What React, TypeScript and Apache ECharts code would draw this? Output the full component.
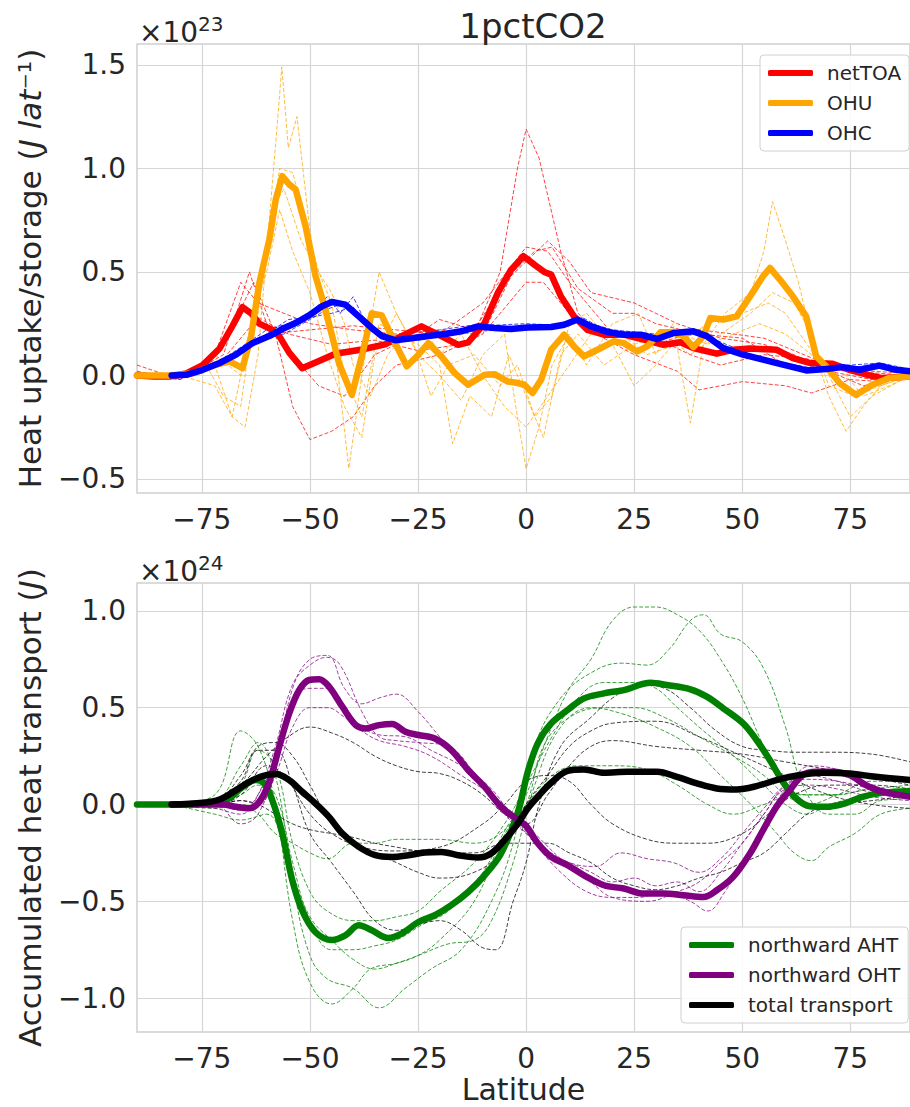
import React, { useEffect, useRef } from "react";
import * as echarts from "echarts";

const FONT = '"DejaVu Sans", "Liberation Sans", sans-serif';
const TXT = "#262626";

// tick labels
const xTicks = [-75, -50, -25, 0, 25, 50, 75];
const topYTicks = [-0.5, 0, 0.5, 1.0, 1.5];
const botYTicks = [-1.0, -0.5, 0, 0.5, 1.0];

// ---------- top panel (units of 1e23 J/lat) ----------
const netTOA: number[][] = [[-90,0],[-86,-0.005],[-82.4,-0.005],[-78.6,0.01],[-74.8,0.05],[-70.9,0.13],[-67.9,0.24],[-65.6,0.33],[-63.6,0.30],[-61.7,0.25],[-58.7,0.22],[-57.1,0.19],[-54.8,0.11],[-51.8,0.035],[-47.9,0.07],[-44.1,0.105],[-38,0.125],[-32.6,0.15],[-28.8,0.19],[-24.2,0.237],[-20.3,0.197],[-15.7,0.148],[-13.4,0.16],[-9.6,0.253],[-6.5,0.40],[-3.5,0.51],[-0.6,0.576],[1.9,0.535],[4.2,0.50],[5.8,0.487],[8.1,0.38],[11.1,0.285],[14.2,0.22],[18,0.197],[22.6,0.197],[27.2,0.173],[31.8,0.148],[35.7,0.16],[38.7,0.132],[44.1,0.105],[47.9,0.124],[51.8,0.13],[57.9,0.124],[61.7,0.084],[65.6,0.06],[70.9,0.056],[74.8,0.027],[79.4,0],[82.4,-0.013],[88.8,-0.005]];
const OHU: number[][] = [[-90,0],[-82.4,0],[-77,0.01],[-72.5,0.047],[-68.6,0.068],[-65.6,0.035],[-63.6,0.19],[-61.7,0.447],[-59.4,0.656],[-57.9,0.85],[-56.4,0.963],[-54.8,0.923],[-53.3,0.898],[-51,0.72],[-48.7,0.48],[-46.4,0.318],[-43.3,0.06],[-40.3,-0.094],[-38,0.092],[-35.7,0.30],[-33.4,0.29],[-31.1,0.19],[-27.6,0.044],[-24.9,0.10],[-22.6,0.156],[-19.6,0.092],[-16.5,0.011],[-13.4,-0.045],[-9.6,0.003],[-7.3,0.006],[-4.3,-0.029],[-1.9,-0.037],[-0.4,-0.045],[1.5,-0.085],[3.5,-0.02],[5.8,0.124],[8.8,0.197],[11.1,0.14],[13.4,0.092],[16.5,0.124],[20.3,0.165],[22.6,0.156],[25.7,0.116],[28,0.14],[31.1,0.208],[34.1,0.208],[36.4,0.19],[38.7,0.137],[41,0.19],[42.6,0.277],[45.6,0.27],[48.7,0.285],[51.8,0.382],[54.8,0.479],[56.4,0.519],[58.7,0.463],[61.7,0.382],[64.8,0.285],[67.1,0.092],[69.4,0.044],[72.5,-0.037],[76.3,-0.094],[80.1,-0.045],[84,-0.013],[88.8,-0.005]];
const OHC: number[][] = [[-82,0],[-78.6,0.003],[-74.8,0.027],[-70.9,0.06],[-67.1,0.10],[-63.3,0.156],[-59.4,0.19],[-56.4,0.224],[-53.3,0.253],[-50.2,0.29],[-47.2,0.334],[-44.9,0.355],[-41.8,0.342],[-38.7,0.285],[-35.7,0.229],[-33.4,0.19],[-30.3,0.17],[-26.5,0.18],[-22.6,0.19],[-18.8,0.2],[-15,0.213],[-11.1,0.237],[-7.3,0.229],[-3.5,0.224],[0.3,0.232],[5.8,0.234],[8.8,0.245],[11.9,0.27],[15,0.237],[18.8,0.21],[22.6,0.197],[26.5,0.197],[30.3,0.176],[34.1,0.205],[38.7,0.213],[41.8,0.19],[45.6,0.132],[50.2,0.1],[54.8,0.076],[59.4,0.052],[64.8,0.024],[69.4,0.031],[73.2,0.04],[77.1,0.027],[81.7,0.047],[85.5,0.027],[88.8,0.02]];

// individual models (thin dashed)
const toaModelA: number[][] = [[-90,0.02],[-80,-0.02],[-72,0.1],[-66,0.45],[-62,0.35],[-56,0.3],[-50,0.25],[-40,0.22],[-30,0.2],[-20,0.22],[-12,0.2],[-6,0.5],[-2,1.0],[0,1.19],[3,1.05],[8,0.6],[12,0.3],[18,0.18],[25,0.1],[35,0.02],[40,-0.07],[50,-0.03],[60,-0.05],[66,-0.085],[75,-0.02],[82,-0.03],[88.8,0]];
const toaModelB: number[][] = [[-90,0.05],[-80,-0.02],[-70,0.15],[-63,0.45],[-58,0.2],[-54,-0.15],[-50,-0.31],[-45,-0.27],[-40,-0.2],[-35,-0.05],[-30,0.05],[-20,0.1],[-10,0.2],[-3,0.5],[2,0.6],[6,0.62],[12,0.42],[20,0.3],[25,0.3],[30,0.25],[40,0.2],[50,0.18],[60,0.05],[70,0.02],[80,-0.02],[88.8,0]];
const toaModelC: number[][] = [[-90,0],[-80,-0.02],[-70,0.1],[-64,0.5],[-60,0.25],[-55,0.12],[-48,-0.05],[-42,-0.1],[-35,0.1],[-25,0.2],[-20,0.27],[-12,0.22],[-5,0.45],[0,0.55],[5,0.65],[10,0.55],[15,0.4],[25,0.35],[35,0.25],[45,0.18],[55,0.15],[62,0.1],[70,0.02],[78,-0.05],[88.8,0]];
const toaModelD: number[][] = [[-90,0],[-80,0],[-70,0.05],[-60,0.2],[-50,0.22],[-40,0.24],[-30,0.22],[-20,0.2],[-10,0.35],[0,0.62],[5,0.6],[10,0.45],[20,0.2],[30,0.15],[40,0.22],[48,0.2],[55,0.18],[62,0.12],[70,0.05],[80,0.02],[88.8,0.01]];
const toaModelE: number[][] = [[-90,0],[-80,0],[-70,0.08],[-62,0.28],[-55,0.2],[-45,0.15],[-35,0.17],[-25,0.12],[-15,0.15],[-8,0.25],[0,0.45],[4,0.45],[10,0.3],[18,0.22],[28,0.2],[38,0.1],[45,0.05],[55,0.1],[65,0.08],[75,0.02],[88.8,0]];

const ohuModelA: number[][] = [[-90,0],[-80,0],[-72,0.05],[-68,-0.2],[-65,-0.25],[-62,0.1],[-60,0.6],[-58,1.1],[-56.5,1.49],[-55,1.1],[-53,1.25],[-50,0.7],[-47,0.3],[-44,0.1],[-41,-0.45],[-38,0],[-34,0.5],[-30,0.3],[-25,0.1],[-20,0],[-15,-0.12],[-10,0.1],[-5,0.2],[-2,-0.2],[0,-0.45],[3,-0.25],[6,0.05],[10,0.2],[14,0.05],[20,0.25],[26,0.3],[30,0.1],[34,0.25],[38,-0.23],[41,0.15],[46,0.3],[52,0.4],[55,0.6],[57,0.84],[60,0.65],[63,0.45],[67,0.1],[70,-0.1],[74,-0.27],[78,-0.15],[82,-0.05],[88.8,0]];
const ohuModelB: number[][] = [[-90,0],[-80,0],[-72,-0.05],[-68,-0.2],[-64,0.2],[-60,0.6],[-57,1.0],[-54,0.98],[-51,0.75],[-48,0.5],[-45,0.35],[-42,0],[-38,-0.2],[-34,0.25],[-30,0.2],[-25,0.15],[-20,0.05],[-17,-0.33],[-13,-0.1],[-8,-0.2],[-4,0.1],[0,-0.1],[4,-0.3],[8,0.1],[12,0.2],[18,0.05],[25,0.15],[32,0.2],[38,0.1],[45,0.2],[52,0.3],[57,0.4],[62,0.35],[66,0.2],[70,-0.05],[76,-0.1],[82,-0.05],[88.8,0]];
const ohuModelC: number[][] = [[-90,0],[-80,0],[-72,0.1],[-66,0],[-62,0.3],[-59,0.8],[-56,0.9],[-52,0.65],[-48,0.5],[-45,0.4],[-42,0.25],[-40,0.05],[-36,-0.1],[-32,0.1],[-28,0.2],[-24,0.25],[-20,0.1],[-15,0.2],[-10,0],[-5,-0.15],[0,-0.25],[5,-0.1],[10,0.05],[15,0.2],[22,0.2],[28,0.1],[35,0.15],[42,0.25],[50,0.3],[56,0.35],[60,0.3],[65,0.15],[70,0],[75,-0.2],[80,-0.1],[88.8,0]];
const ohuModelD: number[][] = [[-90,0],[-80,0],[-74,0.05],[-70,-0.1],[-66,-0.15],[-63,0.3],[-60,0.5],[-57,0.8],[-54,0.6],[-50,0.4],[-46,0.1],[-42,-0.15],[-38,-0.3],[-35,0.1],[-30,0.3],[-26,0.15],[-22,-0.1],[-18,0.05],[-12,0.1],[-6,-0.05],[-2,0.05],[2,-0.2],[6,-0.1],[10,0.25],[14,0.3],[20,0.15],[25,-0.05],[30,0.05],[36,0.2],[42,0.15],[48,0.2],[54,0.25],[60,0.2],[66,0.1],[72,0.05],[78,-0.1],[84,-0.05],[88.8,0]];

const ohcModelA: number[][] = [[-82,0],[-75,0.03],[-70,0.08],[-65,0.15],[-60,0.22],[-55,0.25],[-50,0.3],[-46,0.38],[-43,0.3],[-40,0.38],[-37,0.25],[-33,0.2],[-28,0.18],[-20,0.22],[-10,0.25],[0,0.22],[10,0.26],[15,0.25],[20,0.22],[30,0.2],[40,0.22],[45,0.15],[55,0.08],[65,0.04],[75,0.05],[82,0.06],[88.8,0.03]];
const ohcModelB: number[][] = [[-82,0],[-75,0.02],[-70,0.05],[-65,0.12],[-60,0.2],[-55,0.27],[-50,0.28],[-45,0.3],[-40,0.33],[-35,0.22],[-30,0.18],[-20,0.2],[-10,0.24],[0,0.25],[10,0.24],[13,0.28],[20,0.2],[30,0.18],[40,0.2],[46,0.13],[55,0.07],[65,0.03],[75,0.04],[82,0.05],[88.8,0.02]];
const ohcModelC: number[][] = [[-82,0],[-75,0.02],[-68,0.08],[-62,0.18],[-56,0.2],[-50,0.27],[-46,0.32],[-42,0.35],[-38,0.28],[-33,0.2],[-25,0.17],[-15,0.21],[-5,0.22],[5,0.24],[12,0.27],[18,0.22],[28,0.19],[38,0.22],[44,0.17],[52,0.1],[62,0.04],[72,0.03],[80,0.05],[88.8,0.02]];

// ---------- bottom panel (units of 1e24 J) ----------
const AHT: number[][] = [[-90,0],[-82.4,0],[-74.8,0.005],[-69.4,0.022],[-65.6,0.09],[-62.5,0.126],[-60.6,0.109],[-58.7,0.022],[-56.4,-0.15],[-54.1,-0.39],[-51.8,-0.547],[-48.7,-0.66],[-44.9,-0.70],[-41.8,-0.676],[-38.7,-0.624],[-35.7,-0.65],[-31.9,-0.69],[-28.8,-0.667],[-24.9,-0.607],[-21.1,-0.572],[-17.3,-0.52],[-13.4,-0.452],[-9.6,-0.366],[-5.8,-0.253],[-1.9,-0.04],[0.4,0.17],[2.7,0.316],[5.8,0.419],[9.6,0.488],[13.4,0.548],[18,0.574],[22.6,0.591],[28.8,0.629],[32.6,0.617],[38,0.595],[41.8,0.557],[45.6,0.497],[50.2,0.419],[53.3,0.333],[56.4,0.229],[59.4,0.117],[62.5,0.031],[65.6,-0.009],[69.4,-0.012],[73.2,0.002],[77.8,0.04],[82.4,0.06],[88.8,0.07]];
const OHT: number[][] = [[-82,0],[-74.8,0],[-70.2,0],[-67.1,-0.012],[-64,-0.02],[-61.7,0.014],[-59.4,0.117],[-57.1,0.298],[-54.8,0.47],[-52.5,0.59],[-50.2,0.643],[-47.9,0.647],[-45.6,0.609],[-42.5,0.505],[-39.4,0.41],[-37.1,0.393],[-34,0.41],[-31,0.416],[-27.9,0.376],[-24.9,0.359],[-21.1,0.341],[-17.3,0.281],[-13.4,0.178],[-9.6,0.091],[-5.8,-0.012],[-1.9,-0.08],[0,-0.11],[2.7,-0.2],[5.8,-0.27],[9.6,-0.314],[13.4,-0.366],[18,-0.417],[22.6,-0.434],[27.2,-0.46],[31.8,-0.46],[36.4,-0.469],[41,-0.478],[44.1,-0.443],[47.9,-0.374],[51.8,-0.253],[54.8,-0.133],[57.9,-0.012],[61,0.074],[64,0.152],[67.1,0.169],[70.9,0.169],[74.8,0.152],[78.6,0.1],[82.4,0.066],[88.8,0.04]];
const totalHT: number[][] = [[-82,0],[-74.8,0.009],[-70.9,0.026],[-67.1,0.074],[-64,0.117],[-61,0.147],[-57.9,0.157],[-54.8,0.126],[-51.8,0.066],[-48.7,0.005],[-45.6,-0.064],[-42.5,-0.15],[-38.7,-0.219],[-34.9,-0.262],[-31,-0.271],[-27.2,-0.262],[-23.4,-0.248],[-19.6,-0.245],[-15.7,-0.262],[-11.1,-0.274],[-8.1,-0.253],[-5,-0.184],[-1.9,-0.098],[0.4,-0.02],[2.7,0.04],[5.8,0.112],[9.6,0.174],[13.4,0.181],[18,0.164],[23.4,0.169],[30.3,0.169],[34.9,0.143],[39.5,0.109],[44.1,0.083],[48.7,0.078],[53.3,0.095],[57.9,0.126],[63.3,0.152],[68.6,0.164],[74.8,0.16],[80.9,0.143],[88.8,0.126]];

const ahtModelA: number[][] = [[-82,0],[-72,0.05],[-66,0.38],[-62,0.3],[-58,0],[-54,-0.6],[-50,-0.92],[-45,-1.03],[-40,-0.95],[-36,-0.85],[-30,-0.82],[-25,-0.78],[-20,-0.7],[-12,-0.5],[-6,-0.2],[0,0.05],[5,0.35],[10,0.6],[15,0.75],[20,0.95],[25,1.02],[30,1.02],[35,0.98],[40,0.9],[45,0.75],[50,0.55],[55,0.3],[60,0.1],[65,0.05],[72,0.05],[80,0.08],[88.8,0.07]];
const ahtModelB: number[][] = [[-82,0],[-72,0.02],[-66,0.2],[-62,0.32],[-58,0.15],[-54,-0.4],[-50,-0.78],[-46,-0.9],[-40,-0.95],[-34,-1.05],[-28,-0.95],[-22,-0.85],[-15,-0.75],[-8,-0.5],[-3,-0.2],[2,0.3],[8,0.55],[15,0.68],[22,0.73],[28,0.72],[33,0.8],[38,0.95],[41,0.98],[45,0.88],[50,0.84],[55,0.7],[60,0.4],[64,0.1],[70,-0.05],[76,-0.05],[82,0.02],[88.8,0.03]];
const ahtModelC: number[][] = [[-82,0],[-72,0],[-66,0.1],[-62,0.28],[-58,0.2],[-54,-0.2],[-50,-0.45],[-46,-0.55],[-40,-0.6],[-35,-0.6],[-30,-0.58],[-25,-0.55],[-20,-0.45],[-12,-0.3],[-5,-0.1],[0,0.1],[6,0.35],[12,0.55],[18,0.63],[25,0.63],[30,0.6],[35,0.5],[40,0.4],[48,0.25],[55,0.1],[60,0],[65,-0.05],[70,0],[80,0.05],[88.8,0.08]];
const ahtModelD: number[][] = [[-82,0],[-72,-0.05],[-66,-0.08],[-60,-0.05],[-55,-0.3],[-50,-0.58],[-45,-0.7],[-40,-0.8],[-35,-0.85],[-30,-0.82],[-25,-0.78],[-18,-0.72],[-12,-0.7],[-8,-0.6],[-3,-0.3],[2,0.1],[8,0.4],[15,0.5],[22,0.47],[30,0.4],[38,0.3],[45,0.15],[52,0],[58,-0.15],[62,-0.25],[66,-0.29],[70,-0.22],[76,-0.15],[82,-0.05],[88.8,-0.02]];
const ahtModelE: number[][] = [[-82,0],[-72,0],[-66,0.05],[-62,0.1],[-58,0.05],[-54,-0.3],[-50,-0.6],[-45,-0.75],[-40,-0.75],[-35,-0.73],[-30,-0.7],[-24,-0.62],[-18,-0.55],[-10,-0.35],[-4,-0.1],[0,0],[4,0.3],[10,0.45],[18,0.5],[25,0.5],[32,0.45],[40,0.35],[48,0.25],[55,0.15],[60,0.05],[65,0],[72,0.05],[80,0.12],[88.8,0.12]];
const ahtModelF: number[][] = [[-82,0],[-72,-0.02],[-66,0],[-62,-0.05],[-58,-0.15],[-54,-0.2],[-50,-0.25],[-46,-0.28],[-40,-0.2],[-35,-0.2],[-30,-0.18],[-20,-0.18],[-12,-0.2],[-6,-0.15],[0,0],[6,0.15],[12,0.2],[20,0.2],[28,0.18],[35,0.1],[42,0],[48,-0.05],[55,0],[62,0.05],[70,0.05],[80,0.08],[88.8,0.1]];

const ohtModelA: number[][] = [[-82,0],[-72,0],[-66,-0.1],[-62,-0.05],[-58,0.2],[-54,0.6],[-50,0.75],[-46,0.77],[-42,0.6],[-38,0.52],[-34,0.55],[-30,0.57],[-25,0.48],[-20,0.35],[-12,0.15],[-5,-0.05],[0,-0.15],[5,-0.25],[10,-0.3],[15,-0.35],[20,-0.4],[25,-0.38],[30,-0.42],[35,-0.4],[40,-0.45],[45,-0.35],[50,-0.2],[55,-0.05],[60,0.1],[65,0.15],[72,0.12],[80,0.06],[88.8,0.03]];
const ohtModelB: number[][] = [[-82,0],[-72,-0.02],[-66,-0.05],[-62,0.05],[-58,0.3],[-54,0.62],[-50,0.72],[-46,0.76],[-43,0.72],[-38,0.48],[-34,0.35],[-30,0.33],[-25,0.32],[-18,0.3],[-10,0.1],[-3,-0.05],[2,-0.2],[8,-0.35],[14,-0.45],[20,-0.48],[26,-0.48],[32,-0.45],[38,-0.5],[42,-0.55],[46,-0.45],[50,-0.3],[55,-0.1],[60,0.08],[66,0.2],[72,0.18],[80,0.1],[88.8,0.05]];
const ohtModelC: number[][] = [[-82,0],[-72,0],[-66,0.02],[-62,0],[-58,0.15],[-54,0.4],[-50,0.5],[-46,0.5],[-42,0.45],[-38,0.38],[-34,0.33],[-28,0.3],[-22,0.25],[-15,0.15],[-8,0.05],[-3,-0.05],[2,-0.15],[8,-0.28],[14,-0.38],[20,-0.48],[28,-0.5],[35,-0.45],[40,-0.4],[45,-0.3],[50,-0.2],[55,-0.05],[60,0.08],[66,0.1],[72,0.08],[80,0.04],[88.8,0.02]];
const ohtModelD: number[][] = [[-82,0],[-72,0],[-66,-0.03],[-62,0.05],[-58,0.25],[-54,0.55],[-50,0.6],[-46,0.6],[-42,0.5],[-38,0.4],[-34,0.36],[-28,0.35],[-22,0.28],[-15,0.2],[-8,0.08],[-2,-0.1],[4,-0.22],[10,-0.3],[16,-0.32],[22,-0.25],[28,-0.28],[34,-0.3],[40,-0.35],[45,-0.28],[50,-0.15],[55,-0.02],[60,0.1],[65,0.13],[72,0.12],[80,0.08],[88.8,0.04]];

const totModelA: number[][] = [[-82,0],[-72,0.02],[-66,0.1],[-60,0.25],[-55,0.35],[-50,0.4],[-45,0.37],[-40,0.32],[-35,0.25],[-30,0.2],[-25,0.17],[-20,0.16],[-15,0.12],[-10,0.05],[-5,-0.05],[0,-0.1],[5,0.05],[10,0.2],[15,0.3],[20,0.33],[30,0.3],[40,0.28],[50,0.26],[60,0.22],[70,0.18],[80,0.14],[88.8,0.1]];
const totModelB: number[][] = [[-82,0],[-72,0.02],[-66,0.12],[-62,0.28],[-58,0.28],[-54,0.1],[-50,-0.15],[-45,-0.3],[-40,-0.45],[-35,-0.6],[-30,-0.65],[-25,-0.62],[-20,-0.6],[-15,-0.65],[-10,-0.74],[-7,-0.75],[-3,-0.5],[0,-0.3],[3,0],[8,0.3],[15,0.45],[20,0.55],[26,0.62],[32,0.6],[38,0.5],[44,0.38],[50,0.3],[56,0.28],[62,0.27],[70,0.27],[80,0.26],[88.8,0.22]];
const totModelC: number[][] = [[-82,0],[-72,0.02],[-66,0.15],[-62,0.3],[-58,0.32],[-54,0.25],[-50,0.1],[-45,-0.1],[-40,-0.2],[-35,-0.25],[-30,-0.3],[-25,-0.35],[-20,-0.38],[-12,-0.35],[-6,-0.25],[0,0],[5,0.15],[10,0.3],[15,0.38],[20,0.42],[30,0.43],[40,0.35],[50,0.25],[60,0.15],[70,0.05],[80,0],[88.8,-0.02]];
const totModelD: number[][] = [[-82,0],[-72,0],[-66,0.02],[-62,0],[-58,-0.05],[-54,-0.1],[-50,-0.13],[-45,-0.15],[-40,-0.17],[-35,-0.2],[-30,-0.22],[-25,-0.24],[-20,-0.25],[-12,-0.25],[-5,-0.2],[0,-0.2],[5,-0.2],[10,-0.25],[15,-0.3],[20,-0.38],[25,-0.42],[30,-0.44],[35,-0.42],[40,-0.38],[45,-0.35],[50,-0.3],[55,-0.25],[60,-0.15],[65,-0.05],[70,0],[80,0.02],[88.8,0.05]];
const totModelE: number[][] = [[-82,0],[-72,0],[-66,0.05],[-60,0.2],[-56,0.15],[-50,-0.05],[-45,-0.15],[-38,-0.22],[-30,-0.24],[-20,-0.22],[-10,-0.1],[-5,0],[0,0.12],[5,0.15],[10,0.12],[15,0],[20,-0.1],[28,-0.18],[35,-0.2],[42,-0.2],[50,-0.15],[56,-0.05],[62,0.05],[70,0.1],[80,0.1],[88.8,0.08]];

const RED = "#ff0000", ORANGE = "#ffa500", BLUE = "#0000ff";
const GREEN = "#008000", PURPLE = "#800080", BLACK = "#000000";

const fmt1 = (v: number) => (v < 0 ? "\u2212" : "") + Math.abs(v).toFixed(1);
const fmt0 = (v: number) => (v < 0 ? "\u2212" : "") + Math.abs(Math.round(v)).toString();

export default function App() {
  const ref = useRef<HTMLDivElement>(null);
  useEffect(() => {
    if (!ref.current) return;
    const chart = echarts.init(ref.current, null, { renderer: "svg" });

    const thin = (data: number[][], color: string, grid: number, smooth: number | boolean, i: number) => ({
      type: "line",
      name: "model" + grid + "_" + i,
      xAxisIndex: grid,
      yAxisIndex: grid,
      data,
      showSymbol: false,
      symbol: "none",
      smooth,
      z: 2,
      silent: true,
      lineStyle: { color, width: 1, type: [4, 2], opacity: 0.75 },
    });
    const thick = (data: number[][], color: string, name: string, grid: number, smooth: number | boolean) => ({
      type: "line",
      name,
      xAxisIndex: grid,
      yAxisIndex: grid,
      data,
      showSymbol: false,
      symbol: "none",
      smooth,
      z: 4,
      itemStyle: { color },
      lineStyle: { color, width: 6.5, cap: "round", join: "round" },
    });

    const topThin = [
      ...[toaModelA, toaModelB, toaModelC, toaModelD, toaModelE].map((d, i) => thin(d, RED, 0, false, i)),
      ...[ohuModelA, ohuModelB, ohuModelC, ohuModelD].map((d, i) => thin(d, ORANGE, 0, false, 10 + i)),
      ...[ohcModelA, ohcModelB, ohcModelC].map((d, i) => thin(d, BLUE, 0, false, 20 + i)),
    ];
    const botThin = [
      ...[ahtModelA, ahtModelB, ahtModelC, ahtModelD, ahtModelE, ahtModelF].map((d, i) => thin(d, GREEN, 1, 0.4, i)),
      ...[ohtModelA, ohtModelB, ohtModelC, ohtModelD].map((d, i) => thin(d, PURPLE, 1, 0.4, 10 + i)),
      ...[totModelA, totModelB, totModelC, totModelD, totModelE].map((d, i) => thin(d, BLACK, 1, 0.4, 20 + i)),
    ];

    const xAxisBase = (gridIndex: number, showName: boolean) => ({
      type: "value",
      gridIndex,
      min: -90,
      max: 88.8,
      name: showName ? "Latitude" : "",
      nameLocation: "middle",
      nameGap: 42,
      nameTextStyle: { fontSize: 30, fontFamily: FONT, color: TXT },
      axisLine: { show: false },
      axisTick: { show: false, customValues: xTicks },
      axisLabel: { customValues: xTicks, formatter: fmt0, fontSize: 28, fontFamily: FONT, color: TXT, margin: 12 },
      splitLine: { show: true, lineStyle: { color: "#d6d6d6", width: 1.2 } },
    });
    const yAxisBase = (gridIndex: number, min: number, max: number, ticks: number[], name: string, rich: any) => ({
      type: "value",
      gridIndex,
      min,
      max,
      name,
      nameLocation: "middle",
      nameGap: 92,
      nameRotate: 90,
      nameTextStyle: { fontSize: 31, fontFamily: FONT, color: TXT, rich },
      axisLine: { show: false },
      axisTick: { show: false, customValues: ticks },
      axisLabel: { customValues: ticks, formatter: fmt1, fontSize: 28, fontFamily: FONT, color: TXT, margin: 11 },
      splitLine: { show: true, lineStyle: { color: "#d6d6d6", width: 1.2 } },
    });

    const nameRich = {
      n: { fontSize: 31, fontFamily: FONT, color: TXT },
      i: { fontSize: 31, fontFamily: FONT, color: TXT, fontStyle: "italic" },
    };

    const legendBase = {
      orient: "vertical",
      padding: [6, 8, 6, 8],
      itemGap: 6,
      itemWidth: 45,
      itemHeight: 6,
      icon: "roundRect",
      backgroundColor: "rgba(255,255,255,0.85)",
      borderColor: "#d0d0d0",
      borderWidth: 1,
      borderRadius: 4,
      selectedMode: false,
      textStyle: { fontSize: 20, fontFamily: FONT, color: TXT, lineHeight: 24, padding: [0, 0, 0, 9] },
    };

    const sup = (x: number, y: number, base: string, exp: string) => ({
      type: "text",
      x,
      y,
      style: {
        text: "{a|" + base + "}{b|" + exp + "}",
        fill: TXT,
        rich: {
          a: { fontSize: 28, fontFamily: FONT, fill: TXT, color: TXT },
          b: { fontSize: 20, fontFamily: FONT, fill: TXT, color: TXT, padding: [0, 0, 16, 0] },
        },
      },
    });

    chart.setOption({
      animation: false,
      backgroundColor: "#ffffff",
      textStyle: { fontFamily: FONT },
      title: {
        text: "1pctCO2",
        left: 528,
        top: 4,
        textAlign: "center",
        textStyle: { fontSize: 34, fontWeight: "normal", fontFamily: FONT, color: TXT },
      },
      grid: [
        { left: 137, top: 44, right: -4, height: 449, show: true, borderColor: "#cfcfcf", borderWidth: 1.5, containLabel: false },
        { left: 137, top: 583, right: -4, height: 449, show: true, borderColor: "#cfcfcf", borderWidth: 1.5, containLabel: false },
      ],
      xAxis: [xAxisBase(0, false), xAxisBase(1, true)],
      yAxis: [
        yAxisBase(0, -0.568, 1.601, topYTicks, "{n|Heat uptake/storage (}{i|J lat}{n|\u207B\u00B9)}", nameRich),
        yAxisBase(1, -1.175, 1.144, botYTicks, "{n|Accumulated heat transport (}{i|J}{n|)}", nameRich),
      ],
      legend: [
        { ...legendBase, left: 760, top: 55, data: ["netTOA", "OHU", "OHC"] },
        { ...legendBase, left: 681, top: 927, data: ["northward AHT", "northward OHT", "total transport"] },
      ],
      graphic: [sup(139, 14, "\u00D710", "23"), sup(139, 553, "\u00D710", "24")],
      series: [
        ...topThin,
        thick(netTOA, RED, "netTOA", 0, false),
        thick(OHU, ORANGE, "OHU", 0, false),
        thick(OHC, BLUE, "OHC", 0, false),
        ...botThin,
        thick(AHT, GREEN, "northward AHT", 1, 0.35),
        thick(OHT, PURPLE, "northward OHT", 1, 0.35),
        thick(totalHT, BLACK, "total transport", 1, 0.35),
      ],
    });
    return () => chart.dispose();
  }, []);
  return <div ref={ref} style={{ position: "absolute", left: 0, top: 0, width: 910, height: 1107 }} />;
}
